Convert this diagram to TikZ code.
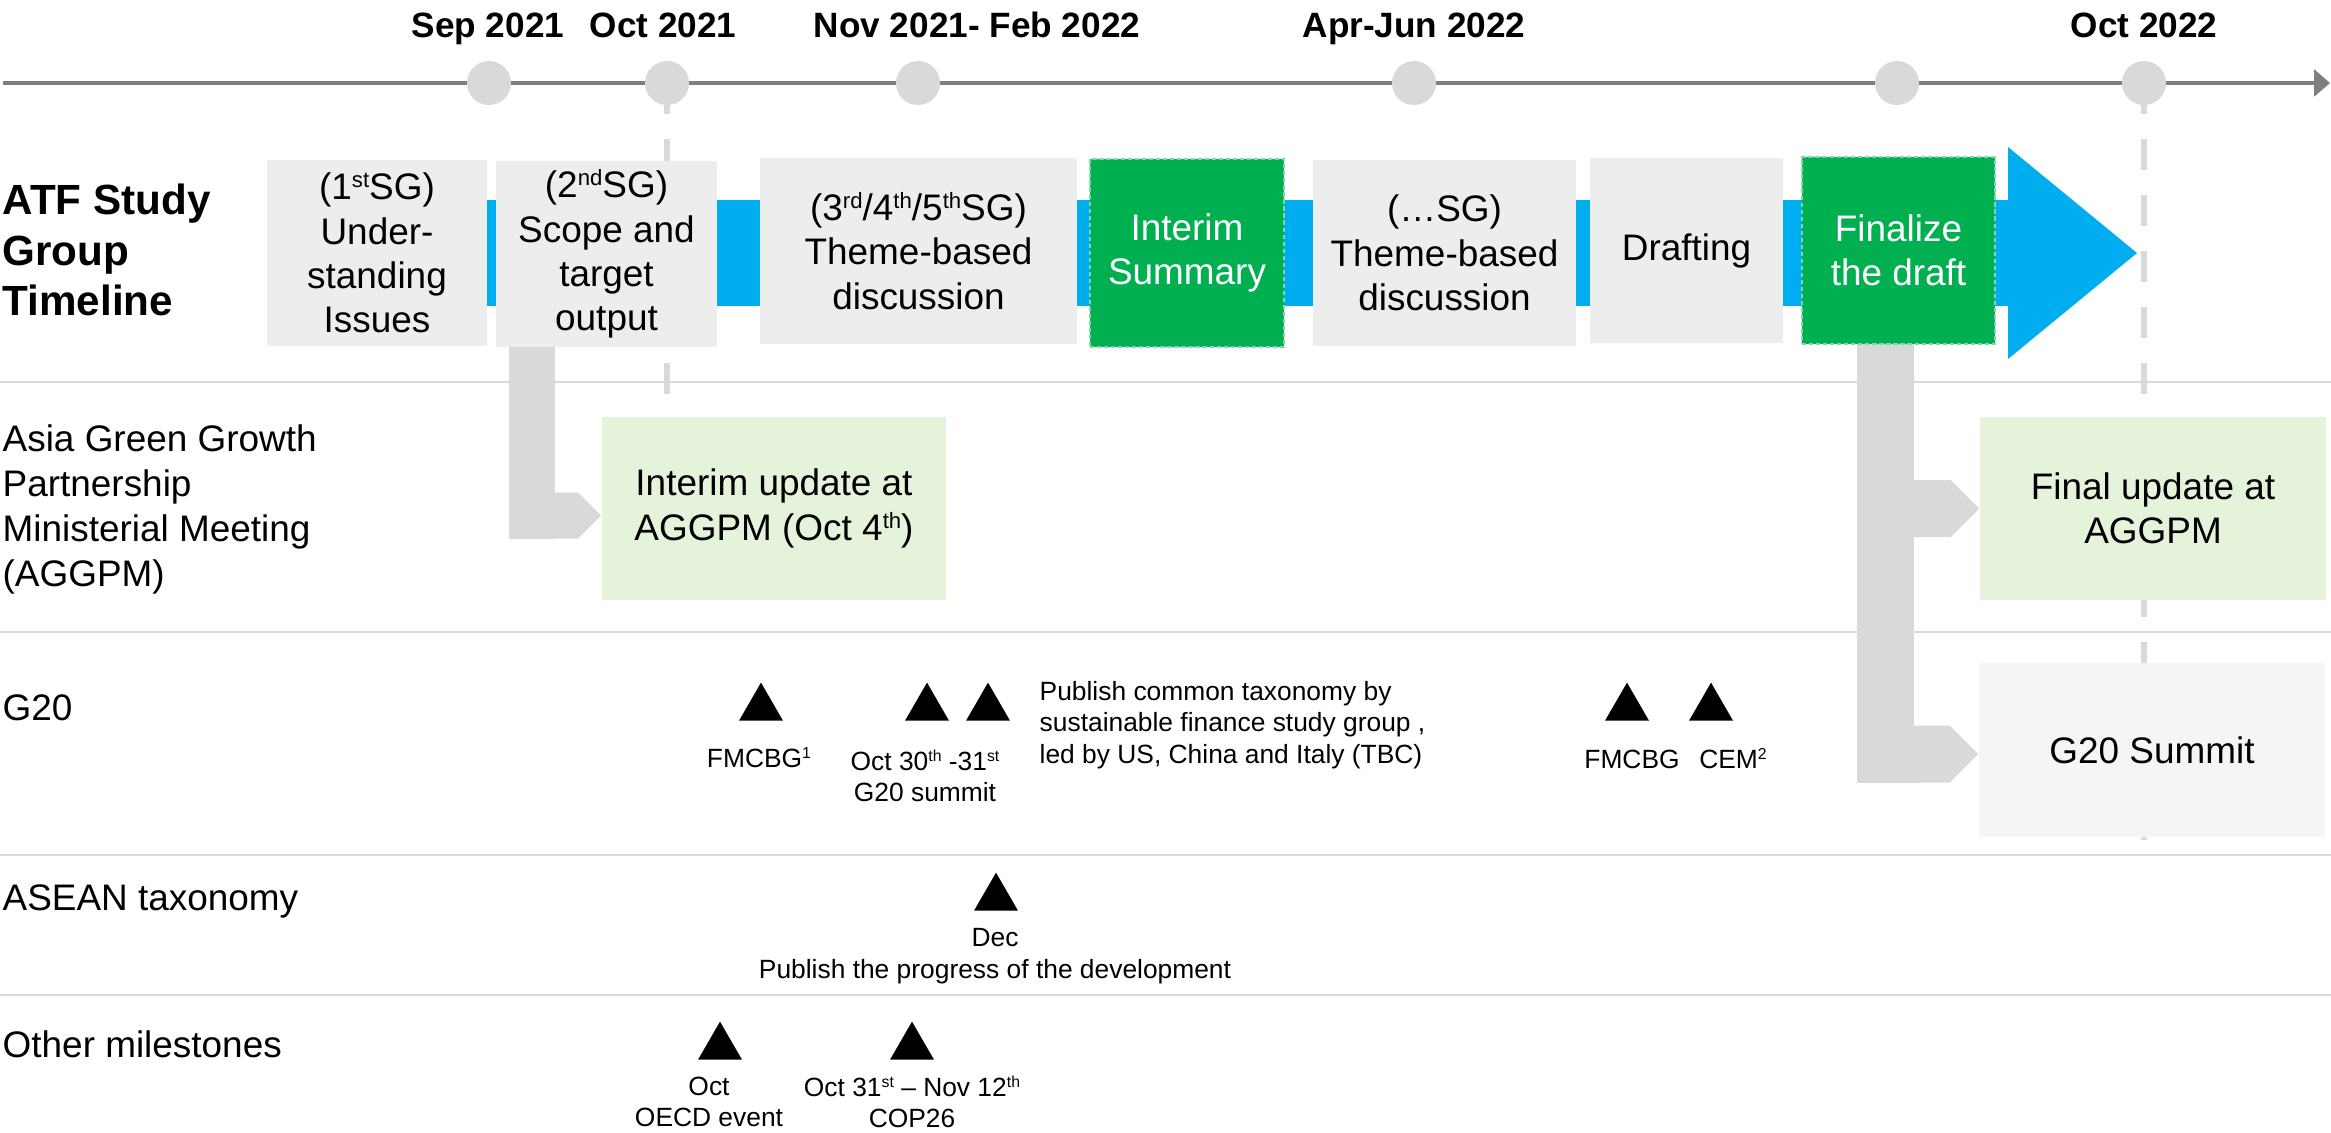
\documentclass[tikz,border=0pt]{standalone}
\usepackage{fontspec}
\setmainfont{Liberation Sans}
\usetikzlibrary{arrows.meta,backgrounds,calc,shapes.geometric}

\definecolor{axisgray}{HTML}{7F7F7F}
\definecolor{guidegray}{HTML}{D9D9D9}
\definecolor{boxgray}{HTML}{EDEDED}
\definecolor{summitgray}{HTML}{F5F5F5}
\definecolor{sgblue}{HTML}{00ADEF}
\definecolor{sggreen}{HTML}{00B050}
\definecolor{sgborder}{HTML}{80D8A8}
\definecolor{updgreen}{HTML}{E6F3DB}
\newcommand{\ordsup}[1]{\raisebox{0.33em}{\scalebox{0.6}{#1}}}

\begin{document}
\begin{tikzpicture}[x=0.01cm, y=-0.01cm]
\tikzset{
  stepbox/.style={fill=boxgray, inner sep=0pt, align=center, font=\fontsize{10.5}{12.6}\selectfont},
  greenbox/.style={fill=sggreen, draw=sgborder, dash pattern=on 1.2pt off 0.8pt, line width=0.5pt, text=white, inner sep=0pt, align=center, font=\fontsize{10.5}{12.6}\selectfont},
  updbox/.style={fill=updgreen, inner sep=0pt, align=center, font=\fontsize{10.5}{12.6}\selectfont},
  rowlbl/.style={anchor=west, inner sep=0pt, align=left, font=\fontsize{10.5}{12.8}\selectfont},
  rowhead/.style={rowlbl, font=\bfseries\fontsize{12}{14.4}\selectfont},
  datelbl/.style={anchor=base, inner sep=0pt, font=\bfseries\fontsize{10}{12}\selectfont},
  tdot/.style={circle, fill=guidegray, minimum size=0.44cm, inner sep=0pt},
  milestone/.style={regular polygon, regular polygon sides=3, fill=black, minimum size=0.508cm, inner sep=0pt},
  smalllbl/.style={inner sep=0pt, align=center, font=\fontsize{7.5}{9}\selectfont},
  guide/.style={guidegray, line width=1.7pt, dash pattern=on 8.8pt off 7.1pt},
  sepline/.style={guidegray, line width=0.7pt},
  feed/.style={guidegray, line width=#1, -{Triangle Cap}},
}
\useasboundingbox (0,0) rectangle (2331,1132);
\coordinate (T0) at (3,83);
\coordinate (T1) at (2330,83);
\coordinate (G2) at (667,448);
\coordinate (G6) at (2144,840);
\node[tdot] (C1) at (489,83) {};
\node[tdot] (C2) at (667,83) {};
\node[tdot] (C3) at (918,83) {};
\node[tdot] (C4) at (1414,83) {};
\node[tdot] (C5) at (1897,83) {};
\node[tdot] (C6) at (2144,83) {};
\node[datelbl] (D1) at (488,37) {Sep 2021};
\node[datelbl] (D2) at (663,37) {Oct 2021};
\node[datelbl] (D3) at (977,37) {Nov 2021- Feb 2022};
\node[datelbl] (D4) at (1414,37) {Apr-Jun 2022};
\node[datelbl] (D6) at (2144,37) {Oct 2022};
\node[rowhead] (R1) at (2,250) {ATF Study\\Group\\Timeline};
\node[rowlbl] (R2) at (2,509) {Asia Green Growth\\Partnership\\Ministerial Meeting\\(AGGPM)};
\node[rowlbl, anchor=base west] (R3) at (2,720) {G20};
\node[rowlbl, anchor=base west] (R4) at (2,910) {ASEAN taxonomy};
\node[rowlbl, anchor=base west] (R5) at (2,1057) {Other milestones};
\node[stepbox, minimum width=2.20cm, minimum height=1.86cm] (SG1) at (377,253) {(1\ordsup{st}SG)\\Under-\\standing\\Issues};
\node[stepbox, minimum width=2.21cm, minimum height=1.86cm] (SG2) at (606.5,254) {(2\ordsup{nd}SG)\\Scope and\\target\\output};
\node[stepbox, minimum width=3.17cm, minimum height=1.86cm] (SG3) at (918.5,251) {(3\ordsup{rd}/4\ordsup{th}/5\ordsup{th}SG)\\Theme-based\\discussion};
\node[greenbox, minimum width=1.94cm, minimum height=1.88cm] (SUM) at (1187,253) {Interim\\Summary};
\node[stepbox, minimum width=2.63cm, minimum height=1.86cm] (SGN) at (1444.5,253) {(…SG)\\Theme-based\\discussion};
\node[stepbox, minimum width=1.93cm, minimum height=1.85cm] (DRA) at (1686.5,250.5) {Drafting};
\node[greenbox, minimum width=1.93cm, minimum height=1.87cm] (FIN) at (1898.5,250.5) {Finalize\\the draft};
\node[updbox, minimum width=3.44cm, minimum height=1.83cm] (INT) at (774,508.5) {Interim update at\\AGGPM (Oct 4\ordsup{th})};
\node[updbox, minimum width=3.46cm, minimum height=1.83cm] (FUP) at (2153,508.5) {Final update at\\AGGPM};
\node[updbox, fill=summitgray, minimum width=3.46cm, minimum height=1.74cm] (G20S) at (2152,750) {G20 Summit};
\node[milestone] (M1) at (761,708) {};
\node[milestone] (M2) at (927,708) {};
\node[milestone] (M3) at (988,708) {};
\node[milestone] (M4) at (1627,708) {};
\node[milestone] (M5) at (1711,708) {};
\node[milestone] (M6) at (996,898) {};
\node[milestone] (M7) at (720,1047) {};
\node[milestone] (M8) at (912,1047) {};
\node[smalllbl, anchor=base] (L1) at (759,767) {FMCBG\ordsup{1}};
\node[smalllbl] (L2) at (925,776) {Oct 30\ordsup{th} -31\ordsup{st}\\G20 summit};
\node[smalllbl, anchor=west, align=left] (L3) at (1039,725) {Publish common taxonomy by\\sustainable finance study group ,\\led by US, China and Italy (TBC)};
\node[smalllbl, anchor=base] (L4) at (1632,768) {FMCBG};
\node[smalllbl, anchor=base] (L5) at (1733,768) {CEM\ordsup{2}};
\node[smalllbl] (L6) at (995,956) {Dec\\Publish the progress of the development};
\node[smalllbl] (L7) at (709,1102) {Oct\\OECD event};
\node[smalllbl] (L8) at (912,1102) {Oct 31\ordsup{st} -- Nov 12\ordsup{th}\\COP26};
\begin{scope}[on background layer]
\draw[axisgray, line width=1.1pt, -{Triangle[length=4.5pt, width=7.5pt]}] (T0) -- (T1);
\draw[guide] (C2.center) -- (G2);
\draw[guide] (C6.center) -- (G6);
\draw[sepline] (0,382) -- (2331,382);
\draw[sepline] (0,632) -- (2331,632);
\draw[sepline] (0,855) -- (2331,855);
\draw[sepline] (0,995) -- (2331,995);
\fill[sgblue] (377,200) rectangle (2009,306);
\fill[sgblue] (2008,147) -- (2137,253) -- (2008,359) -- cycle;
\draw[feed=0.46cm] ($(SG2.south)+(-74.5,-8)$) |- ($(INT.west)+(0,7)$);
\draw[feed=0.57cm] ($(FIN.south)+(-13,-8)$) |- (FUP.west);
\draw[feed=0.57cm] ($(FIN.south)+(-13,-8)$) |- ($(G20S.west)+(0,4)$);
\end{scope}
\end{tikzpicture}
\end{document}
